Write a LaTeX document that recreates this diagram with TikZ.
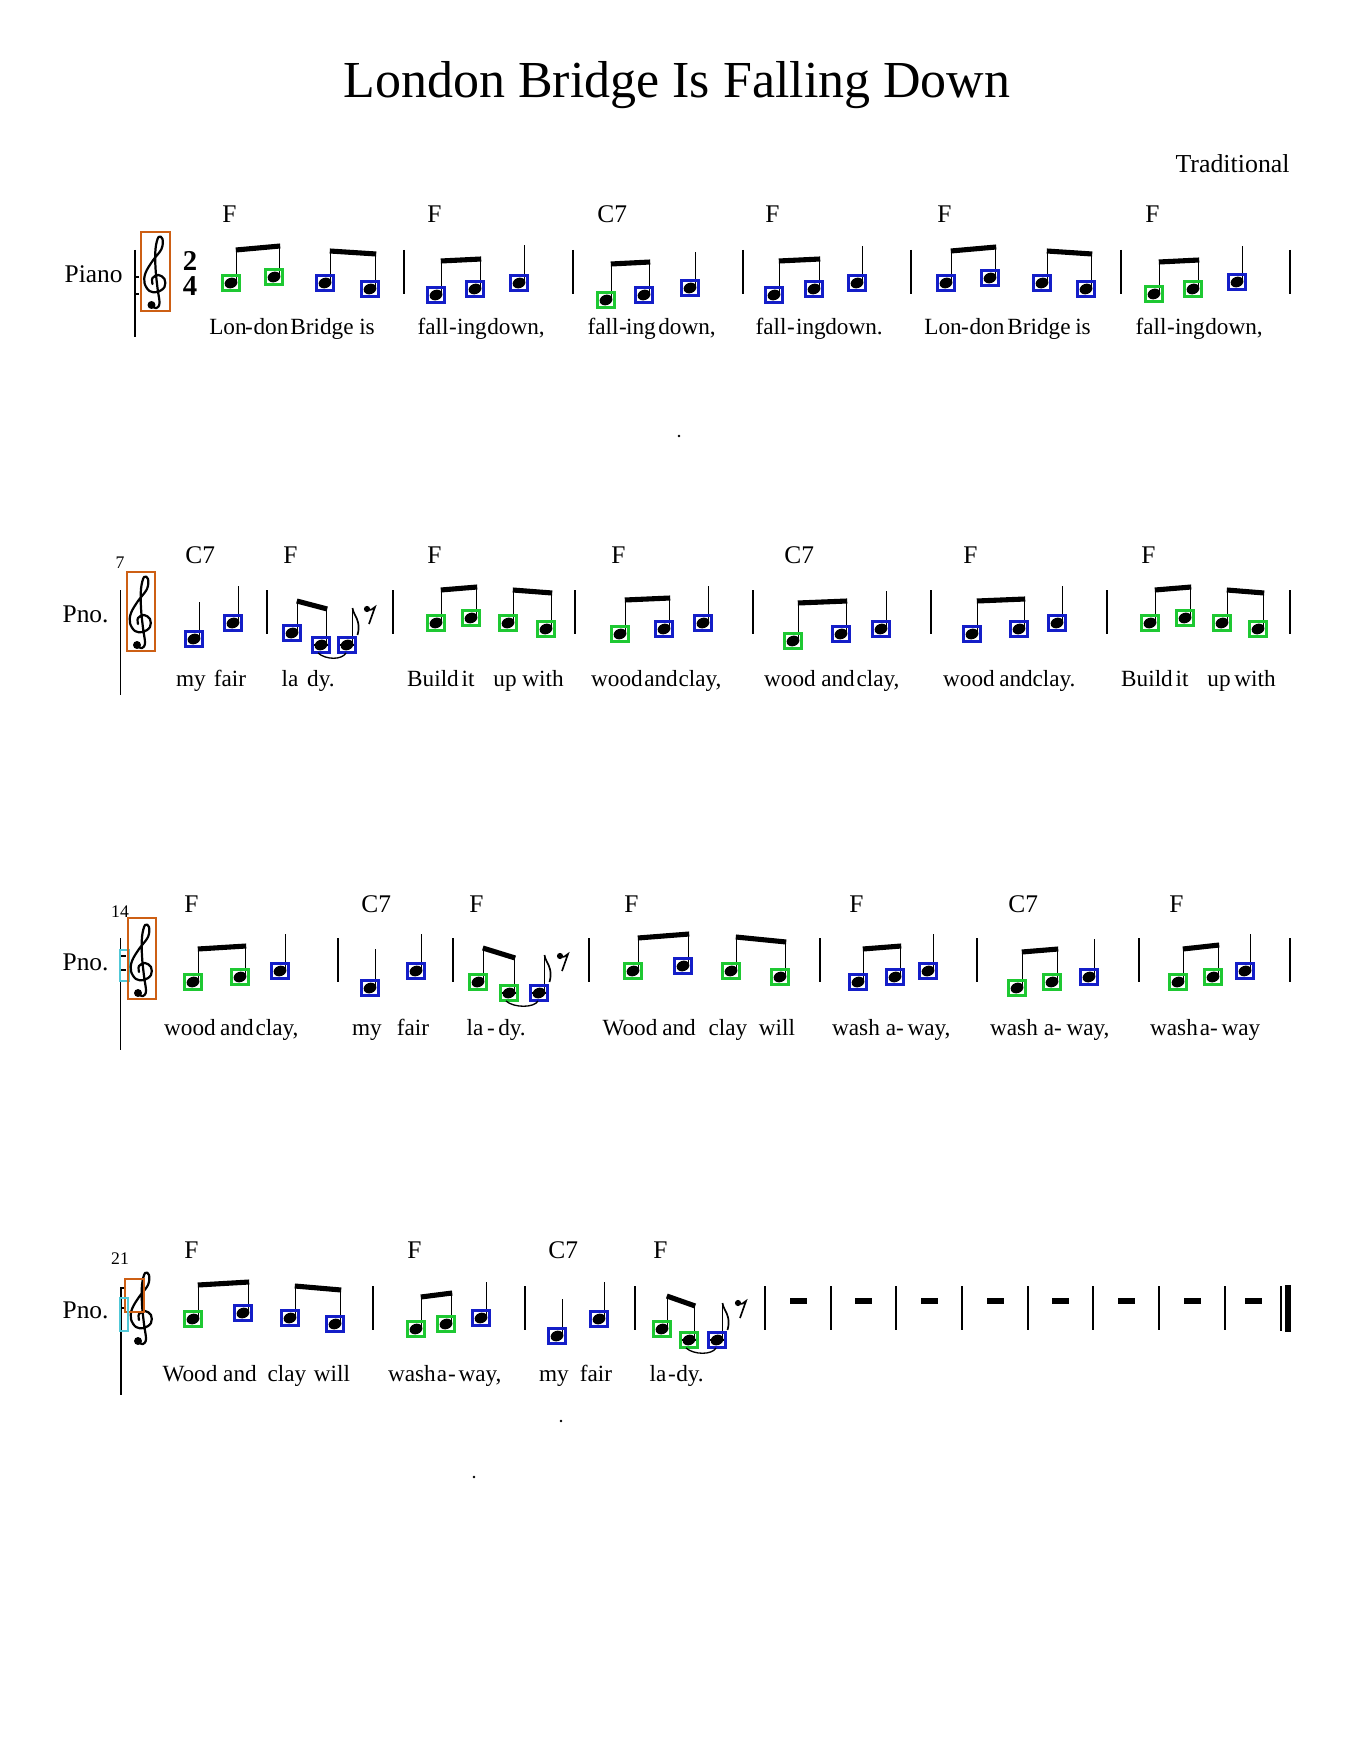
\documentclass[tikz,border=0pt]{standalone}
\usepackage{fontspec}
\setmainfont{Liberation Serif}
\definecolor{bxgreen}{RGB}{30,200,50}
\definecolor{bxblue}{RGB}{20,30,200}
\definecolor{bxorange}{RGB}{205,95,20}
\definecolor{bxcyan}{RGB}{80,200,215}
\tikzset{
  headbox/.style={line width=1.1pt},
  stemline/.style={line width=0.65pt},
  beamline/.style={line width=2.3pt},
  barline/.style={line width=1.1pt},
  lyr/.style={font=\fontsize{10.5}{12}\selectfont, anchor=base, inner sep=0pt},
  chd/.style={font=\fontsize{11.5}{13}\selectfont, anchor=base west, inner sep=0pt},
  inst/.style={font=\fontsize{11.5}{13}\selectfont, anchor=base east, inner sep=0pt},
  mnum/.style={font=\fontsize{8}{9}\selectfont, anchor=base, inner sep=0pt},
  tsig/.style={font=\fontsize{13}{11.3}\bfseries, align=center, inner sep=0pt, anchor=center},
}
\newcounter{lyc}
\newcommand{\NH}[3]{%
  \fill[rotate around={20:(#1,#2)}] (#1,#2) ellipse (2.95pt and 2.35pt);
  \draw[#3,headbox] (#1-8.5,#2-7.5) rectangle (#1+8.5,#2+7.5);}
\newcommand{\BPair}[8]{%
  \draw[stemline] (#1+5.5,#2-1) -- (#1+5.5,#7);
  \draw[stemline] (#4+5.5,#5-1) -- (#4+5.5,#8);
  \draw[beamline] (#1+4.8,#7) -- (#4+6.2,#8);
  \NH{#1}{#2}{#3}\NH{#4}{#5}{#6}}
\newcommand{\QN}[4]{\draw[stemline] (#1+5.5,#2-1) -- (#1+5.5,#4); \NH{#1}{#2}{#3}}
\newcommand{\Ly}[3]{\stepcounter{lyc}\node[lyr] (ly\arabic{lyc}) at (#1,#2) {#3};}
\newcommand{\Hy}[2]{\Ly{#1}{#2}{-}}
\newcommand{\Chd}[3]{\stepcounter{lyc}\node[chd] (ch\arabic{lyc}) at (#1-9,#2) {#3};}
\newcommand{\MBar}[3]{\draw[barline] (#1,#2) -- (#1,#3);}
\newcommand{\Ledger}[2]{\draw[line width=0.6pt] (#1-10,#2) -- (#1+10,#2);}
\newcommand{\Flag}[2]{\draw[line width=0.75pt] (#1,#2) .. controls (#1+1,#2+8) and (#1+9,#2+12) .. (#1+5,#2+27);}
\newcommand{\ERest}[2]{%
  \fill (#1,#2) circle (1.4pt);
  \draw[line width=0.75pt] (#1,#2+1) .. controls (#1+3,#2+2) and (#1+6,#2) .. (#1+8,#2-2) -- (#1+2,#2+15);}
\newcommand{\Tie}[3]{\draw[line width=0.6pt] (#1-3,#3+8) .. controls (#1+5,#3+15) and (#2-5,#3+15) .. (#2-1,#3+8);}
\newcommand{\WRest}[2]{\fill (#1-8.5,#2-3) rectangle (#1+8.5,#2+3);}
\newcommand{\GClef}[2]{%
  \begin{scope}[shift={(#1,#2)}]
    \draw[line width=1pt, line cap=round, line join=round] plot[smooth, tension=0.6] coordinates {(-4,23) (1,25) (4,20) (2,5) (0,-15) (0,-34) (3,-46) (7,-44) (6,-34) (-3,-22) (-10,-10) (-11,0) (-6,8) (2,9) (9,4) (9,-4) (3,-8) (-3,-5) (-3,1)};
    \fill (-4,22) circle (1.8pt);
  \end{scope}}

\begin{document}
\begin{tikzpicture}[x=0.45233pt,y=-0.45233pt]
\fill[white] (0,0) rectangle (1353,1750);
\useasboundingbox (0,0) rectangle (1353,1750);

\node[font=\fontsize{23.5}{28}\selectfont, anchor=base, inner sep=0pt] (title) at (677,98) {London Bridge Is Falling Down};
\node[font=\fontsize{11.7}{14}\selectfont, anchor=base east, inner sep=0pt] (composer) at (1290,173) {Traditional};

% stray dots
\fill (679,436) circle (0.6pt);
\fill (561,1421) circle (0.6pt);
\fill (474,1477) circle (0.6pt);

% ================= SYSTEM 1 =================
\node[inst] (inst1) at (123,283) {Piano};
\draw[line width=0.7pt] (135,250) -- (135,337);
\draw[line width=0.6pt] (135,277) -- (139,277) (135,294) -- (139,294);
\GClef{155.5}{283}
\draw[bxorange,headbox] (141,232) rectangle (170,311);
\node[tsig] (ts) at (190,273) {2\\4};
\foreach \bx in {404,573,743,911,1121,1290} {\MBar{\bx}{250}{294}}
\BPair{231}{283}{bxgreen}{274}{277}{bxgreen}{250}{246}
\BPair{325}{283}{bxblue}{370}{289}{bxblue}{251}{254}
\BPair{436}{295}{bxblue}{475}{289}{bxblue}{261}{259}
\QN{519}{283}{bxblue}{245}
\BPair{606}{300}{bxgreen}{644}{295}{bxblue}{264}{262}
\QN{690}{288}{bxblue}{252}
\BPair{774}{295}{bxblue}{814}{289}{bxblue}{261}{259}
\QN{857}{283}{bxblue}{246}
\BPair{946}{283}{bxblue}{990}{278}{bxblue}{251}{247}
\BPair{1042}{283}{bxblue}{1086}{289}{bxblue}{251}{254}
\BPair{1154}{294}{bxgreen}{1193}{289}{bxgreen}{262}{260}
\QN{1237}{282}{bxblue}{246}
\Chd{231}{223}{F}\Chd{436}{223}{F}\Chd{606}{223}{C7}\Chd{774}{223}{F}\Chd{946}{223}{F}\Chd{1154}{223}{F}
\Ly{228}{335}{Lon}\Hy{249}{335}\Ly{271}{335}{don}\Ly{322}{335}{Bridge}\Ly{367}{335}{is}
\Ly{433}{335}{fall}\Hy{453}{335}\Ly{472}{335}{ing}\Ly{516}{335}{down,}
\Ly{603}{335}{fall}\Hy{623}{335}\Ly{641}{335}{ing}\Ly{687}{335}{down,}
\Ly{771}{335}{fall}\Hy{791}{335}\Ly{811}{335}{ing}\Ly{854}{335}{down.}
\Ly{943}{335}{Lon}\Hy{965}{335}\Ly{987}{335}{don}\Ly{1039}{335}{Bridge}\Ly{1083}{335}{is}
\Ly{1151}{335}{fall}\Hy{1171}{335}\Ly{1190}{335}{ing}\Ly{1234}{335}{down,}

% ================= SYSTEM 2 =================
\node[mnum] (mn7) at (120,568) {7};
\node[inst] (inst2) at (109,622) {Pno.};
\draw[line width=0.7pt] (120.5,590) -- (120.5,695);
\GClef{141}{623}
\draw[bxorange,headbox] (127,572) rectangle (155,651);
\foreach \bx in {267,393,575,753,931,1107,1290} {\MBar{\bx}{590}{634}}
\QN{194}{639}{bxblue}{602}
\QN{233}{623}{bxblue}{586}
% measure 8
\Ledger{321}{645}\Ledger{347}{645}
\draw[stemline] (297.5,632) -- (297.5,601);
\draw[stemline] (326.5,644) -- (326.5,609);
\draw[beamline] (296.8,601) -- (327.2,609);
\draw[stemline] (352.5,644) -- (352.5,608);
\Flag{352.5}{608}
\NH{292}{633}{bxblue}\NH{321}{645}{bxblue}\NH{347}{645}{bxblue}
\Tie{321}{347}{645}
\ERest{367}{609}
\BPair{436}{623}{bxgreen}{471}{618}{bxgreen}{590}{587}
\BPair{508}{623}{bxgreen}{546}{629}{bxgreen}{590}{593}
\BPair{620}{634}{bxgreen}{664}{629}{bxblue}{600}{598}
\QN{703}{623}{bxblue}{586}
\BPair{793}{641}{bxgreen}{841}{634}{bxblue}{603}{601}
\QN{881}{629}{bxblue}{591}
\BPair{972}{634}{bxblue}{1019}{629}{bxblue}{601}{599}
\QN{1057}{623}{bxblue}{586}
\BPair{1150}{623}{bxgreen}{1185}{618}{bxgreen}{590}{587}
\BPair{1222}{623}{bxgreen}{1258}{629}{bxgreen}{590}{593}
\Chd{194}{563}{C7}\Chd{292}{563}{F}\Chd{436}{563}{F}\Chd{620}{563}{F}\Chd{793}{563}{C7}\Chd{972}{563}{F}\Chd{1150}{563}{F}
\Ly{191}{686}{my}\Ly{230}{686}{fair}\Ly{290}{686}{la}\Ly{321}{686}{dy.}
\Ly{433}{686}{Build}\Ly{468}{686}{it}\Ly{505}{686}{up}\Ly{543}{686}{with}
\Ly{617}{686}{wood}\Ly{661}{686}{and}\Ly{700}{686}{clay,}
\Ly{790}{686}{wood}\Ly{838}{686}{and}\Ly{878}{686}{clay,}
\Ly{969}{686}{wood}\Ly{1016}{686}{and}\Ly{1054}{686}{clay.}
\Ly{1147}{686}{Build}\Ly{1182}{686}{it}\Ly{1219}{686}{up}\Ly{1255}{686}{with}

% ================= SYSTEM 3 =================
\node[mnum] (mn14) at (120,917) {14};
\node[inst] (inst3) at (109,970) {Pno.};
\draw[line width=0.7pt] (120.5,938) -- (120.5,1050);
\draw[line width=0.6pt] (121,956) -- (126,956) (121,970) -- (126,970);
\draw[bxcyan,headbox] (120,950) rectangle (129,981);
\GClef{142}{971}
\draw[bxorange,headbox] (128,918) rectangle (156,999);
\foreach \bx in {338,453,589,820,977,1139,1290} {\MBar{\bx}{938}{982}}
\BPair{193}{982}{bxgreen}{240}{977}{bxgreen}{949}{946}
\QN{280}{971}{bxblue}{934}
\QN{370}{988}{bxblue}{949}
\QN{416}{971}{bxblue}{934}
% measure 16
\Ledger{509}{993}\Ledger{539}{993}
\draw[stemline] (483.5,981) -- (483.5,948);
\draw[stemline] (514.5,992) -- (514.5,958);
\draw[beamline] (482.8,948) -- (515.2,958);
\draw[stemline] (544.5,992) -- (544.5,955);
\Flag{544.5}{955}
\NH{478}{982}{bxgreen}\NH{509}{993}{bxgreen}\NH{539}{993}{bxblue}
\Tie{509}{539}{993}
\ERest{560}{956}
\BPair{633}{971}{bxgreen}{683}{966}{bxblue}{938}{934}
\BPair{731}{971}{bxgreen}{780}{977}{bxgreen}{937}{942}
\BPair{858}{982}{bxblue}{895}{977}{bxblue}{949}{946}
\QN{928}{971}{bxblue}{934}
\BPair{1017}{988}{bxgreen}{1052}{982}{bxgreen}{952}{949}
\QN{1089}{977}{bxblue}{939}
\BPair{1178}{982}{bxgreen}{1213}{977}{bxgreen}{949}{945}
\QN{1245}{971}{bxblue}{934}
\Chd{193}{912}{F}\Chd{370}{912}{C7}\Chd{478}{912}{F}\Chd{633}{912}{F}\Chd{858}{912}{F}\Chd{1017}{912}{C7}\Chd{1178}{912}{F}
\Ly{190}{1035}{wood}\Ly{237}{1035}{and}\Ly{277}{1035}{clay,}
\Ly{367}{1035}{my}\Ly{413}{1035}{fair}
\Ly{475}{1035}{la}\Hy{491}{1035}\Ly{512}{1035}{dy.}
\Ly{630}{1035}{Wood}\Ly{679}{1035}{and}\Ly{728}{1035}{clay}\Ly{777}{1035}{will}
\Ly{856}{1035}{wash}\Ly{891}{1035}{a}\Hy{900}{1035}\Ly{929}{1035}{way,}
\Ly{1014}{1035}{wash}\Ly{1049}{1035}{a}\Hy{1058}{1035}\Ly{1088}{1035}{way,}
\Ly{1174}{1035}{wash}\Ly{1205}{1035}{a}\Hy{1214}{1035}\Ly{1241}{1035}{way}

% ================= SYSTEM 4 =================
\node[mnum] (mn21) at (120,1264) {21};
\node[inst] (inst4) at (109,1318) {Pno.};
\draw[line width=0.7pt] (121,1287) -- (121,1395);
\draw[line width=0.6pt] (121,1288) -- (125,1288) (121,1308) -- (125,1308);
\GClef{142}{1319}
\draw[bxorange,headbox] (125,1279) rectangle (144,1312);
\draw[bxcyan,headbox] (120,1298) rectangle (128,1331);
\foreach \bx in {373,525,635,765,831,896,962,1028,1093,1159,1225} {\MBar{\bx}{1286}{1330}}
\draw[line width=0.7pt] (1281,1286) -- (1281,1331);
\draw[line width=2.8pt] (1288,1285) -- (1288,1332);
\BPair{193}{1319}{bxgreen}{243}{1313}{bxblue}{1285}{1282}
\BPair{290}{1318}{bxblue}{335}{1324}{bxblue}{1286}{1290}
\BPair{416}{1329}{bxgreen}{446}{1324}{bxgreen}{1297}{1293}
\QN{481}{1318}{bxblue}{1282}
\QN{557}{1336}{bxblue}{1299}
\QN{599}{1319}{bxblue}{1282}
% measure 24
\Ledger{689}{1340}\Ledger{717}{1340}
\draw[stemline] (667.5,1328) -- (667.5,1296);
\draw[stemline] (694.5,1339) -- (694.5,1306);
\draw[beamline] (666.8,1296) -- (695.2,1306);
\draw[stemline] (722.5,1339) -- (722.5,1303);
\Flag{722.5}{1303}
\NH{662}{1329}{bxgreen}\NH{689}{1340}{bxgreen}\NH{717}{1340}{bxblue}
\Tie{689}{717}{1340}
\ERest{738}{1303}
\foreach \rx in {798,863.5,929,995,1060.5,1126,1192,1253} {\WRest{\rx}{1301}}
\Chd{193}{1258}{F}\Chd{416}{1258}{F}\Chd{557}{1258}{C7}\Chd{662}{1258}{F}
\Ly{190}{1381}{Wood}\Ly{240}{1381}{and}\Ly{287}{1381}{clay}\Ly{332}{1381}{will}
\Ly{412}{1381}{wash}\Ly{442}{1381}{a}\Hy{452}{1381}\Ly{480}{1381}{way,}
\Ly{554}{1381}{my}\Ly{596}{1381}{fair}
\Ly{658}{1381}{la}\Hy{672}{1381}\Ly{690}{1381}{dy.}
\end{tikzpicture}
\end{document}
